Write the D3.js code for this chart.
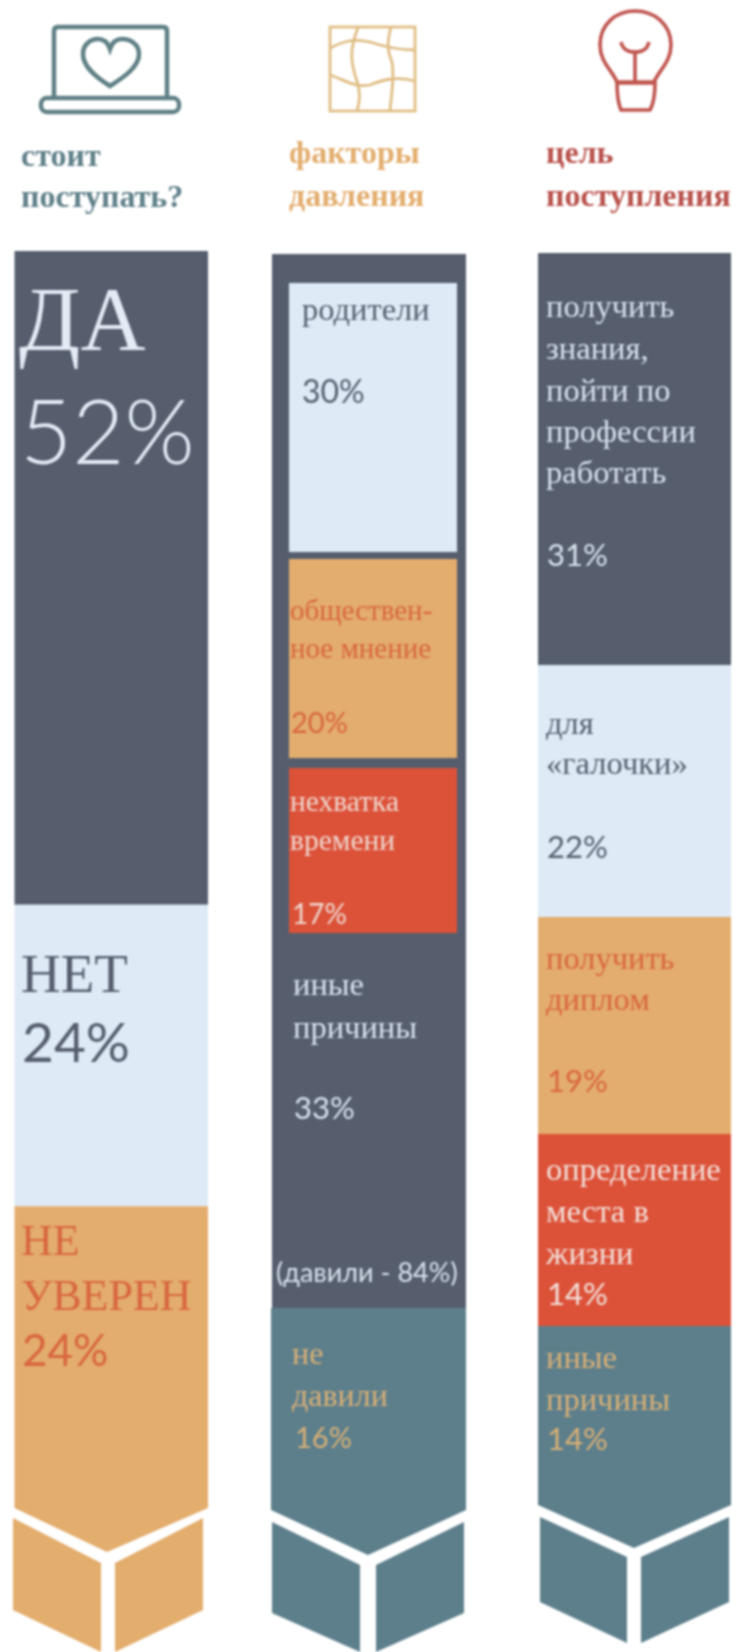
<!DOCTYPE html>
<html>
<head>
<meta charset="utf-8">
<script src="https://cdn.jsdelivr.net/npm/d3@7"></script>
<style>
  html, body { margin: 0; padding: 0; background: #fff; }
  svg { display: block; filter: blur(0.8px); }
  .serif { font-family: "Liberation Serif", serif; }
  .sans { font-family: "Lato", sans-serif; }
</style>
</head>
<body>
<svg id="chart" width="738" height="1652" viewBox="0 0 738 1652"></svg>
<script>
// --- Data ---
const stanceLabels = [["ДА"], ["НЕТ"], ["НЕ", "УВЕРЕН"]];
const stanceValues = [52, 24, 24];

const shareLabels = [["(давили - 84%)"], ["не", "давили"]];
const shareValues = [84, 16];
const factorLabels = [["родители"], ["обществен-", "ное мнение"], ["нехватка", "времени"], ["иные", "причины"]];
const factorValues = [30, 20, 17, 33];

const goalLabels = [
    ["получить", "знания,", "пойти по", "профессии", "работать"],
    ["для", "«галочки»"],
    ["получить", "диплом"],
    ["определение", "места в", "жизни"],
    ["иные", "причины"]
];
const goalValues = [31, 22, 19, 14, 14];

const headers = [["стоит", "поступать?"], ["факторы", "давления"], ["цель", "поступления"]];

// --- Colours ---
const dark = "#565e6e", light = "#deeaf6", orange = "#e3ad6d", red = "#dc5239", teal = "#5d7f8b";
const textOnOrange = "#d8663f", textOnTeal = "#d9b077", textOnDark = "#d9e2ee";

const svg = d3.select("#chart");

// --- Scales: cumulative percent -> page y ---
const cum = arr => [0, ...d3.cumsum(arr)];
const yStance = d3.scaleLinear().domain([0, 100]).range([251, 1508]);
const yShare = d3.scaleLinear().domain(cum(shareValues)).range([254, 1308, 1510]);
const yFactor = d3.scaleLinear().domain(cum(factorValues)).range([254, 555, 763, 933, 1308]);
const yGoal = d3.scaleLinear().domain(cum(goalValues)).range([253, 665, 917, 1134, 1326, 1505]);

// --- Helpers ---
const line = d3.line();

function drawStack(values, y, x0, x1, colors, apexX, apexDrop) {
    const stops = cum(values);
    values.forEach((v, i) => {
        const top = y(stops[i]), bottom = y(stops[i + 1]);
        const pts = i === values.length - 1
            ? [[x0, top], [x1, top], [x1, bottom], [apexX, bottom + apexDrop], [x0, bottom]]
            : [[x0, top], [x1, top], [x1, bottom], [x0, bottom]];
        svg.append("path").attr("d", line(pts) + "Z").attr("fill", colors[i]);
    });
}

// the two little feather pieces under the chevron
function drawTail(x0, x1, innerL, innerR, edgeY, innerY, sideBottom, innerBottom, color) {
    svg.append("path")
        .attr("d", line([[x0, edgeY], [innerL, innerY], [innerL, innerBottom], [x0, sideBottom]]) + "Z")
        .attr("fill", color);
    svg.append("path")
        .attr("d", line([[innerR, innerY], [x1, edgeY], [x1, sideBottom], [innerR, innerBottom]]) + "Z")
        .attr("fill", color);
}

function drawLabel(x, lines, value, baselines, size, pctSize, color, pctX) {
    lines.forEach((t, i) => {
        svg.append("text").attr("class", "serif")
            .attr("x", x).attr("y", baselines[i])
            .attr("font-size", size).attr("fill", color).text(t);
    });
    svg.append("text").attr("class", "sans")
        .attr("x", pctX === undefined ? x : pctX).attr("y", baselines[lines.length])
        .attr("font-size", pctSize).attr("font-weight", pctSize > 60 ? 300 : 400)
        .attr("fill", color).text(`${value}%`);
}

// --- Column 1 ---
drawStack(stanceValues, yStance, 14.5, 208, [dark, light, orange], 107, 44);
drawTail(13, 203, 101, 115, 1518, 1563, 1610, 1652, orange);
drawLabel(19, stanceLabels[0], stanceValues[0], [350, 464], 90, 90, "#e3ebf5", 20);
drawLabel(21, stanceLabels[1], stanceValues[1], [992, 1062], 55, 55, dark, 22);
drawLabel(21, stanceLabels[2], stanceValues[2], [1255, 1310, 1366], 44, 44, textOnOrange, 22);

// --- Column 2 ---
svg.append("rect").attr("x", 272).attr("width", 194)
    .attr("y", yShare(0)).attr("height", yShare(84) - yShare(0)).attr("fill", dark);
svg.append("path")
    .attr("d", line([[271, yShare(84)], [466, yShare(84)], [466, yShare(100)], [368, yShare(100) + 45], [271, yShare(100)]]) + "Z")
    .attr("fill", teal);

const factorStops = cum(factorValues);
const factorColors = [light, orange, red];
const factorInsets = [[29, 3], [4, 5], [5, 0]];
factorColors.forEach((c, i) => {
    svg.append("rect")
        .attr("x", 289).attr("width", 168)
        .attr("y", yFactor(factorStops[i]) + factorInsets[i][0])
        .attr("height", yFactor(factorStops[i + 1]) - yFactor(factorStops[i]) - factorInsets[i][0] - factorInsets[i][1])
        .attr("fill", c);
});
drawTail(272, 464, 360, 376, 1522, 1565, 1613, 1652, teal);

drawLabel(302, factorLabels[0], factorValues[0], [320, 403], 32.5, 32, dark);
drawLabel(290, factorLabels[1], factorValues[1], [620, 658, 733], 29, 29, textOnOrange, 291);
drawLabel(290, factorLabels[2], factorValues[2], [811, 850, 924], 29.5, 28, "#f0d8d0", 292);
drawLabel(293, factorLabels[3], factorValues[3], [995, 1038, 1119], 32.5, 31, textOnDark, 294);
svg.append("text").attr("class", "sans").attr("x", 276).attr("y", 1282)
    .attr("font-size", 27).attr("fill", textOnDark).text(shareLabels[0][0]);
drawLabel(292, shareLabels[1], shareValues[1], [1364, 1406, 1448], 32, 29, textOnTeal, 295);

// --- Column 3 ---
drawStack(goalValues, yGoal, 538, 731, [dark, light, orange, red, teal], 634, 43);
drawTail(540, 729, 627, 641, 1517, 1557, 1602, 1643, teal);
const goalColors = [textOnDark, dark, textOnOrange, "#f3e2dc", textOnTeal];
const goalBaselines = [
    [317, 359, 401, 442, 483, 566],
    [734, 774, 858],
    [969, 1010, 1092],
    [1180, 1222, 1264, 1305],
    [1368, 1410, 1450]
];
goalLabels.forEach((lines, i) => {
    drawLabel(546, lines, goalValues[i], goalBaselines[i], 32.5, 31, goalColors[i], 547);
});

// --- Headers ---
const headerColors = ["#5e7f88", "#e3ad6d", "#b8504a"];
const headerX = [21, 289, 546];
const headerBaselines = [[166, 207], [163, 206], [163, 206]];
headers.forEach((lines, i) => {
    lines.forEach((t, j) => {
        svg.append("text").attr("class", "serif")
            .attr("x", headerX[i]).attr("y", headerBaselines[i][j])
            .attr("font-size", 32).attr("font-weight", 700)
            .attr("fill", headerColors[i]).text(t);
    });
});

// --- Icons ---
// laptop with a heart
const laptop = svg.append("g").attr("fill", "none").attr("stroke", "#5f8085").attr("stroke-width", 4.5);
laptop.append("path").attr("d", "M54,97 V31 Q54,27 58,27 H163 Q167,27 167,31 V97");
laptop.append("rect").attr("x", 41).attr("y", 98).attr("width", 138).attr("height", 14).attr("rx", 6);
laptop.append("path").attr("d", "M110,86 C94,76 83,66 83,54 C83,44 91,39 98,39 C104,39 108,43 110,49 C112,43 116,39 122,39 C130,39 139,44 139,54 C139,66 126,76 110,86 Z");

// warped grid
const grid = svg.append("g").attr("fill", "none").attr("stroke", "#e0bd85").attr("stroke-width", 2.8);
grid.append("rect").attr("x", 330).attr("y", 27).attr("width", 85).attr("height", 84);
grid.append("path").attr("d", "M358,27 C352,45 349,55 355,75 C361,92 360,100 357,111");
grid.append("path").attr("d", "M391,27 C387,42 387,50 392,62 C395,80 391,95 390,111");
grid.append("path").attr("d", "M330,48 C342,42 352,38 370,42 C385,47 398,50 415,50");
grid.append("path").attr("d", "M330,75 C345,80 355,88 370,85 C382,80 395,76 415,81");

// light bulb
const bulb = svg.append("g").attr("fill", "none").attr("stroke", "#c0544e").attr("stroke-width", 3.6);
bulb.append("path").attr("d", "M617,82 C612,70 600,62 600,45 C600,24 616,11 635,11 C654,11 671,24 671,45 C671,62 659,70 654,82 Z");
bulb.append("path").attr("d", "M621,42 C623,50 628,52 635,52 C642,52 647,50 649,42 M635,52 V82");
bulb.append("path").attr("d", "M617,83 H655 C655,95 654,103 650,110 H621 C618,103 617,95 617,83 Z");
</script>
</body>
</html>
